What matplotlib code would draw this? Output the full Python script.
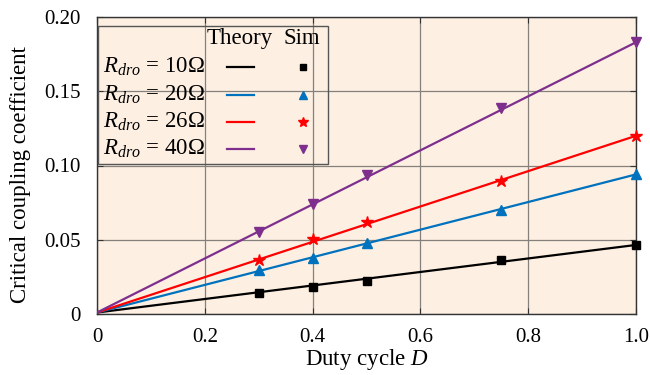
import matplotlib
matplotlib.use("Agg")
import matplotlib.pyplot as plt
from matplotlib.lines import Line2D
from matplotlib.patches import Rectangle

plt.rcParams['font.family'] = ['Liberation Serif', 'DejaVu Serif']
plt.rcParams['mathtext.fontset'] = 'custom'
plt.rcParams['mathtext.rm'] = 'Liberation Serif'
plt.rcParams['mathtext.it'] = 'Liberation Serif:italic'

# Data
theory_D = [0.0, 1.0]
theory_10 = [0.001, 0.0465]
theory_20 = [0.001, 0.094]
theory_26 = [0.001, 0.120]
theory_40 = [0.001, 0.183]

sim_D = [0.3, 0.4, 0.5, 0.75, 1.0]
sim_10 = [0.0140, 0.0181, 0.0222, 0.0363, 0.0465]
sim_20 = [0.0299, 0.0374, 0.0480, 0.0703, 0.0940]
sim_26 = [0.0363, 0.0505, 0.0619, 0.0896, 0.1198]
sim_40 = [0.0555, 0.0738, 0.0935, 0.1385, 0.1830]

labels = [r"$R_{dro}$ = 10Ω", r"$R_{dro}$ = 20Ω", r"$R_{dro}$ = 26Ω", r"$R_{dro}$ = 40Ω"]
colors = ["#000000", "#0072BD", "#FF0000", "#7E2F8E"]
markers = ["s", "^", "*", "v"]
msizes = [5.5, 7, 9, 7]

x_ticks = [0, 0.2, 0.4, 0.6, 0.8, 1.0]
x_ticklabels = ["0", "0.2", "0.4", "0.6", "0.8", "1.0"]
y_ticks = [0, 0.05, 0.10, 0.15, 0.20]
y_ticklabels = ["0", "0.05", "0.10", "0.15", "0.20"]

fig = plt.figure(figsize=(6.5, 3.75), dpi=100)
ax = fig.add_axes([97/650, 1 - 314/375, (636-97)/650, (314-17)/375])
ax.set_facecolor("#FDF0E3")

theories = [theory_10, theory_20, theory_26, theory_40]
sims = [sim_10, sim_20, sim_26, sim_40]
for th, sm, c, m, ms in zip(theories, sims, colors, markers, msizes):
    ax.plot(theory_D, th, color=c, lw=1.6, zorder=3)
    ax.plot(sim_D, sm, ls="none", marker=m, color=c, ms=ms, zorder=4, clip_on=False)

ax.set_xlim(0, 1.0)
ax.set_ylim(0, 0.20)
ax.set_xticks(x_ticks)
ax.set_xticklabels(x_ticklabels)
ax.set_yticks(y_ticks)
ax.set_yticklabels(y_ticklabels)
ax.tick_params(direction="in", top=True, right=True, labelsize=15, length=4, color="#333333")
ax.tick_params(axis="x", pad=10)
ax.tick_params(axis="y", pad=12)
ax.grid(True, color="#85807b", lw=0.9)
for s in ax.spines.values():
    s.set_color("#333333")
    s.set_linewidth(1.0)

ax.set_xlabel("Duty cycle $D$", fontsize=16.5, labelpad=0)
ax.set_ylabel("Critical coupling coefficient", fontsize=16.5)
ax.yaxis.set_label_coords(-0.122, 0.468)

# Custom legend
ax.add_patch(Rectangle((0.002, 0.505), 0.426, 0.465, transform=ax.transAxes,
                       fill=False, edgecolor="#555555", lw=1.0, zorder=5))
ax.text(0.264, 0.928, "Theory", transform=ax.transAxes, ha="center", va="center", fontsize=16.5, zorder=6)
ax.text(0.380, 0.928, "Sim", transform=ax.transAxes, ha="center", va="center", fontsize=16.5, zorder=6)
rows_y = [0.832, 0.737, 0.647, 0.557]
for yy, lab, c, m, ms in zip(rows_y, labels, colors, markers, msizes):
    ax.text(0.011, yy, lab, transform=ax.transAxes, ha="left", va="center", fontsize=16.5, zorder=6)
    ax.add_line(Line2D([0.241, 0.291], [yy, yy], transform=ax.transAxes, color=c, lw=1.6, zorder=6))
    ax.add_line(Line2D([0.382], [yy], transform=ax.transAxes, color=c, marker=m, ms=ms * 0.85, ls="none", zorder=6))

fig.savefig("out.png", dpi=100)
